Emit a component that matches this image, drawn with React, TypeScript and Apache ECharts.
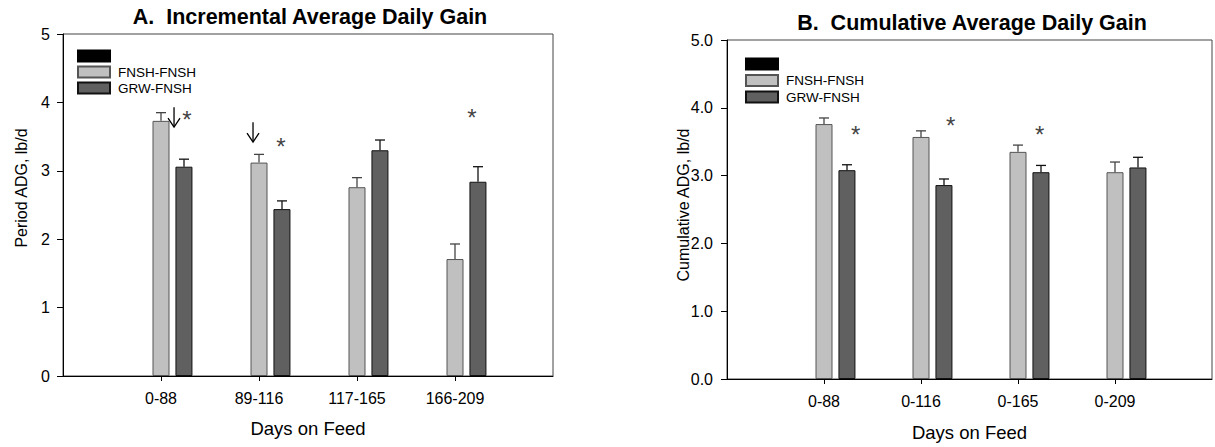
import React, { useEffect, useRef } from "react";
import * as echarts from "echarts";

const categoriesA = ["0-88", "89-116", "117-165", "166-209"];
const fnshA = [3.73, 3.12, 2.76, 1.71];
const fnshErrA = [0.12, 0.12, 0.14, 0.22];
const grwA = [3.06, 2.44, 3.3, 2.84];
const grwErrA = [0.11, 0.12, 0.15, 0.22];

const categoriesB = ["0-88", "0-116", "0-165", "0-209"];
const fnshB = [3.76, 3.57, 3.35, 3.05];
const fnshErrB = [0.09, 0.09, 0.1, 0.15];
const grwB = [3.08, 2.86, 3.05, 3.12];
const grwErrB = [0.08, 0.09, 0.1, 0.15];

// significance markers: [position along category axis (0..5), value]
const starsA = [[1.265, 3.82], [2.224, 3.42], [4.173, 3.85]];
const starsB = [[1.327, 3.68], [2.306, 3.81], [3.224, 3.68]];
// arrows: [position, top value, tip value]
const arrowsA = [[1.133, 3.93, 3.64], [1.939, 3.71, 3.42]];

const FONT = "'Liberation Sans', Arial, Helvetica, sans-serif";
const GRAY = "#c0c0c0";
const DARK = "#606060";
const BLACK_NAME = " ";
const NAMES = [BLACK_NAME, "FNSH-FNSH", "GRW-FNSH"];
const STAR_SIZE = 24;

const pad = (arr: any[]) => [null, ...arr, null];

function errSeries(idx: number, vals: number[], errs: number[], off: number, color: string) {
  return {
    type: "custom",
    xAxisIndex: idx,
    yAxisIndex: idx,
    silent: true,
    z: 5,
    encode: { x: 0, y: 1 },
    data: vals.map((v, i) => [i + 1, v, errs[i]]),
    renderItem: (params: any, api: any) => {
      const p0 = api.coord([api.value(0), api.value(1)]);
      const p1 = api.coord([api.value(0), api.value(1) + api.value(2)]);
      const x = p0[0] + off;
      return {
        type: "group",
        children: [
          { type: "line", shape: { x1: x, y1: p0[1], x2: x, y2: p1[1] }, style: { stroke: color, lineWidth: 1.3 } },
          { type: "line", shape: { x1: x - 5, y1: p1[1], x2: x + 5, y2: p1[1] }, style: { stroke: color, lineWidth: 1.3 } },
        ],
      };
    },
  };
}

function starSeries(xIdx: number, yIdx: number, stars: number[][]) {
  return {
    type: "custom",
    xAxisIndex: xIdx,
    yAxisIndex: yIdx,
    silent: true,
    z: 6,
    encode: { x: 0, y: 1 },
    data: stars,
    renderItem: (params: any, api: any) => {
      const p = api.coord([api.value(0), api.value(1)]);
      return {
        type: "text",
        x: p[0],
        y: p[1] + STAR_SIZE * 0.2,
        style: {
          text: "*",
          font: `${STAR_SIZE}px ${FONT}`,
          fill: "#444",
          textAlign: "center",
          textVerticalAlign: "middle",
        },
      };
    },
  };
}

function arrowSeries(xIdx: number, yIdx: number, arrows: number[][]) {
  return {
    type: "custom",
    xAxisIndex: xIdx,
    yAxisIndex: yIdx,
    silent: true,
    z: 6,
    encode: { x: 0, y: 1 },
    data: arrows,
    renderItem: (params: any, api: any) => {
      const t = api.coord([api.value(0), api.value(1)]);
      const b = api.coord([api.value(0), api.value(2)]);
      return {
        type: "group",
        children: [
          { type: "line", shape: { x1: t[0], y1: t[1], x2: b[0], y2: b[1] }, style: { stroke: "#000", lineWidth: 1.3 } },
          {
            type: "polyline",
            shape: { points: [[b[0] - 6, b[1] - 9], [b[0], b[1]], [b[0] + 6, b[1] - 9]] },
            style: { stroke: "#000", lineWidth: 1.3, fill: null },
          },
        ],
      };
    },
  };
}

function barSeries(idx: number, fnsh: number[], grw: number[]) {
  const common = {
    type: "bar",
    xAxisIndex: idx,
    yAxisIndex: idx,
    barWidth: 17,
    barGap: "35%",
    silent: true,
  };
  return [
    { ...common, name: BLACK_NAME, data: pad(fnsh.map(() => null)), itemStyle: { color: "#000", borderColor: "#000", borderWidth: 1 } },
    { ...common, name: NAMES[1], data: pad(fnsh), itemStyle: { color: GRAY, borderColor: "#555", borderWidth: 1 } },
    { ...common, name: NAMES[2], data: pad(grw), itemStyle: { color: DARK, borderColor: "#111", borderWidth: 1 } },
  ];
}

function xAxis(idx: number, cats: string[], gap: number, margin: number) {
  return {
    type: "category",
    gridIndex: idx,
    data: pad(cats).map((c) => (c === null ? "" : c)),
    boundaryGap: false,
    name: "Days on Feed",
    nameLocation: "middle",
    nameGap: gap,
    nameTextStyle: { fontFamily: FONT, fontSize: 18.5, color: "#000" },
    axisLine: { show: true, lineStyle: { color: "#000", width: 1 } },
    axisTick: { show: true, inside: false, length: 5, interval: (i: number) => i > 0 && i < 5, lineStyle: { color: "#000" } },
    axisLabel: { interval: 0, margin, fontFamily: FONT, fontSize: 16, color: "#000" },
    splitLine: { show: false },
  };
}

function hiddenX(idx: number) {
  return { type: "value", gridIndex: idx, min: 0, max: 5, show: false };
}

function yAxis(idx: number, fmt: (v: number) => string, margin: number) {
  return {
    type: "value",
    gridIndex: idx,
    min: 0,
    max: 5,
    interval: 1,
    axisLine: { show: true, lineStyle: { color: "#000", width: 1 } },
    axisTick: { show: true, inside: false, length: 6, lineStyle: { color: "#000" } },
    axisLabel: { margin, fontFamily: FONT, fontSize: 16, color: "#000", formatter: fmt },
    splitLine: { show: false },
  };
}

function legend(left: number, top: number, gap: number) {
  return {
    left,
    top,
    padding: 0,
    orient: "vertical",
    itemWidth: 32,
    itemHeight: 11,
    itemGap: gap,
    icon: "rect",
    selectedMode: false,
    data: NAMES,
    textStyle: { fontFamily: FONT, fontSize: 13.5, color: "#000", padding: [0, 0, 0, 3] },
  };
}

function titleText(text: string, x: number, y: number) {
  return {
    type: "text",
    x,
    y,
    style: { text, font: `bold 21.5px ${FONT}`, fill: "#000", textAlign: "center", textVerticalAlign: "middle" },
  };
}

function yName(text: string, x: number, y: number) {
  return {
    type: "text",
    x,
    y,
    rotation: Math.PI / 2,
    style: { text, font: `16px ${FONT}`, fill: "#000", textAlign: "center", textVerticalAlign: "middle" },
  };
}

export default function App() {
  const ref = useRef<HTMLDivElement>(null);
  useEffect(() => {
    document.body.style.margin = "0";
    const chart = echarts.init(ref.current!, null, { renderer: "svg" });
    chart.setOption({
      animation: false,
      backgroundColor: "#fff",
      grid: [
        { left: 63, top: 34, width: 490, height: 342, show: true, borderColor: "#444", borderWidth: 1, backgroundColor: "transparent" },
        { left: 727, top: 40, width: 490, height: 341, show: true, borderColor: "#444", borderWidth: 1, backgroundColor: "transparent" },
      ],
      legend: [legend(77, 49, 2), legend(745, 57, 2.5)],
      xAxis: [xAxis(0, categoriesA, 43, 14), xAxis(1, categoriesB, 44, 14), hiddenX(0), hiddenX(1)],
      yAxis: [yAxis(0, (v: number) => String(v), 13), yAxis(1, (v: number) => v.toFixed(1), 14)],
      graphic: [
        titleText("A.  Incremental Average Daily Gain", 310, 17),
        titleText("B.  Cumulative Average Daily Gain", 972, 23),
        yName("Period ADG, lb/d", 21, 188),
        yName("Cumulative ADG, lb/d", 683, 205),
      ],
      series: [
        ...barSeries(0, fnshA, grwA),
        ...barSeries(1, fnshB, grwB),
        errSeries(0, fnshA, fnshErrA, 0, "#444"),
        errSeries(0, grwA, grwErrA, 23, "#111"),
        errSeries(1, fnshB, fnshErrB, 0, "#444"),
        errSeries(1, grwB, grwErrB, 23, "#111"),
        starSeries(2, 0, starsA),
        starSeries(3, 1, starsB),
        arrowSeries(2, 0, arrowsA),
      ],
    });
    return () => chart.dispose();
  }, []);
  return <div ref={ref} style={{ width: 1215, height: 447 }} />;
}
